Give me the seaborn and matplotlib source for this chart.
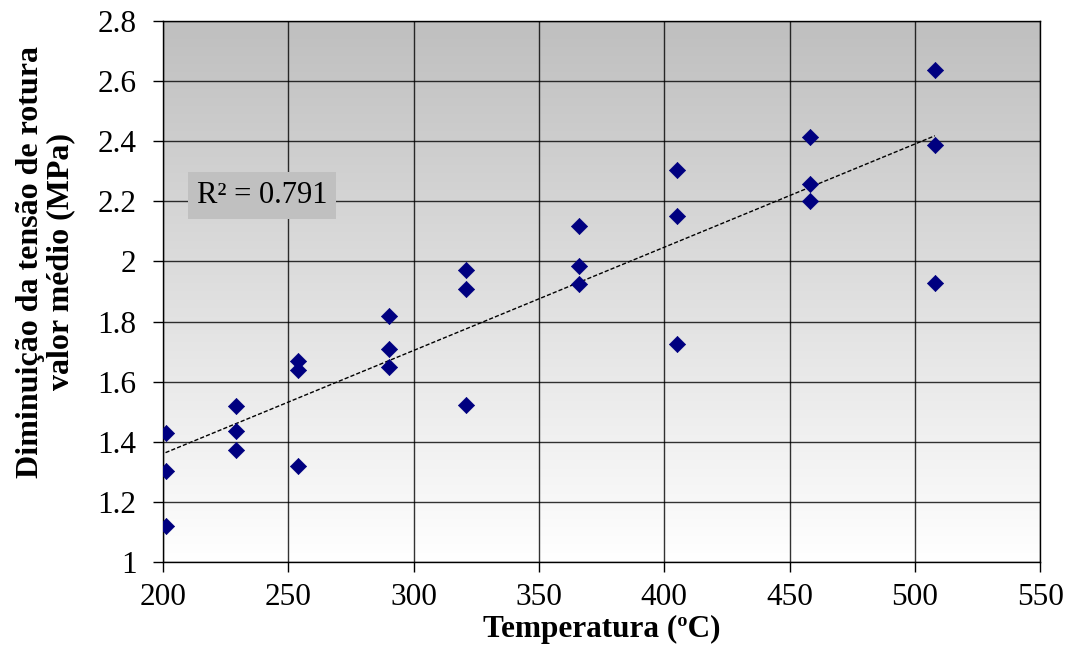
import numpy as np
import pandas as pd
import matplotlib
matplotlib.use("Agg")
import matplotlib.pyplot as plt
import seaborn as sns

# temperatura (C) e diminuicao da tensao de rotura (MPa)
temperatura = [201, 201, 201,
               229, 229, 229,
               254, 254, 254,
               290, 290, 290,
               321, 321, 321,
               366, 366, 366,
               405, 405, 405,
               458, 458, 458,
               508, 508, 508]
tensao = [1.43, 1.304, 1.12,
          1.518, 1.436, 1.373,
          1.67, 1.638, 1.321,
          1.817, 1.71, 1.65,
          1.971, 1.909, 1.524,
          2.117, 1.985, 1.926,
          2.304, 2.15, 1.726,
          2.415, 2.258, 2.2,
          2.637, 2.388, 1.927]
r2_label = "R² = 0.791"

x_ticks = [200, 250, 300, 350, 400, 450, 500, 550]
y_ticks = [1, 1.2, 1.4, 1.6, 1.8, 2, 2.2, 2.4, 2.6, 2.8]
y_tick_labels = ["1", "1.2", "1.4", "1.6", "1.8", "2", "2.2", "2.4", "2.6", "2.8"]

df = pd.DataFrame({"temperatura": temperatura, "tensao": tensao})

sns.set_style("white")
plt.rcParams["font.family"] = ["Liberation Serif", "DejaVu Serif"]
plt.rcParams["text.color"] = "black"
plt.rcParams["axes.labelcolor"] = "black"

fig = plt.figure(figsize=(10.69, 6.47), dpi=100)
ax = fig.add_axes([0.1525, 0.1314, 0.8205, 0.8361])

# gradient background (grey top -> white bottom)
grad = np.linspace(0, 1, 256).reshape(-1, 1)
cmap = matplotlib.colors.LinearSegmentedColormap.from_list("bg", ["#bfbfbf", "#ffffff"])
ax.imshow(grad, cmap=cmap, aspect="auto", extent=[0, 1, 0, 1], origin="upper",
          transform=ax.transAxes, zorder=0)

sns.regplot(data=df, x="temperatura", y="tensao", ax=ax, scatter=False, ci=None,
            truncate=True,
            line_kws=dict(color="black", linestyle=(0, (3, 1.5)), linewidth=1.0, zorder=3))
sns.scatterplot(data=df, x="temperatura", y="tensao", ax=ax, marker="D", s=68,
                color="#000080", edgecolor="#000080", linewidth=0.5, zorder=4)

ax.set_xlim(200, 550)
ax.set_ylim(1, 2.8)
ax.set_xticks(x_ticks)
ax.set_yticks(y_ticks)
ax.set_yticklabels(y_tick_labels)
ax.grid(True, color="black", linewidth=1.0, alpha=0.8)
for line in ax.get_xgridlines() + ax.get_ygridlines():
    line.set_zorder(1)

for side in ["left", "bottom", "top", "right"]:
    ax.spines[side].set_visible(True)
    ax.spines[side].set_color("black")
    ax.spines[side].set_linewidth(1.0)
ax.tick_params(axis="both", which="both", direction="out", length=7, width=1,
               labelsize=22.5, colors="black", left=True, bottom=True)
ax.tick_params(axis="x", pad=8)
ax.tick_params(axis="y", pad=12)

ax.set_xlabel("Temperatura (ºC)", fontsize=22.5, fontweight="bold", labelpad=2)
ax.set_ylabel("Diminuição da tensão de rotura\nvalor médio (MPa)", fontsize=23,
              fontweight="bold", linespacing=1.05)
ax.yaxis.set_label_coords(-0.1, 0.555)

ax.text(0.1129, 0.678, r2_label, transform=ax.transAxes, fontsize=22,
        ha="center", va="center", zorder=5,
        bbox=dict(boxstyle="square,pad=0.3", facecolor="#c0c0c0", edgecolor="none"))

fig.savefig("out.png", dpi=100)
